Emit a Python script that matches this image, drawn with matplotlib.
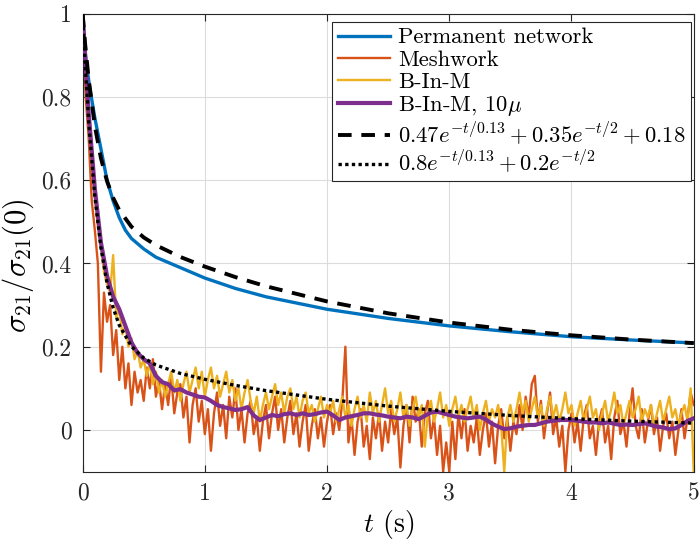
import numpy as np
import matplotlib
matplotlib.use("Agg")
import matplotlib.pyplot as plt

plt.rcParams['mathtext.fontset'] = 'cm'
plt.rcParams['font.family'] = ['cmr10', 'DejaVu Serif']
plt.rcParams['axes.formatter.use_mathtext'] = True

# ---- data ----
t_perm = [0, 0.02, 0.04, 0.06, 0.1, 0.14, 0.2, 0.25, 0.3, 0.35, 0.4, 0.5, 0.6, 0.8,
          1.0, 1.25, 1.5, 2.0, 2.5, 3.0, 3.5, 4.0, 4.5, 5.0]
perm = [1.0, 0.91, 0.86, 0.82, 0.75, 0.69, 0.60, 0.55, 0.51, 0.48, 0.46, 0.435, 0.415, 0.39,
        0.365, 0.34, 0.32, 0.29, 0.268, 0.25, 0.236, 0.224, 0.216, 0.209]

t_noisy = np.arange(201) * 0.025
mesh = [1.00, 0.80, 0.70, 0.55, 0.48, 0.40, 0.14, 0.33, 0.26, 0.30,
        0.18, 0.24, 0.12, 0.20, 0.10, 0.16, 0.06, 0.14, 0.09, 0.12,
        0.07, 0.15, 0.10, 0.17, 0.08, 0.12, 0.05, 0.11, 0.06, 0.13,
        0.04, 0.09, 0.11, 0.03, 0.08, -0.03, 0.06, 0.10, 0.02, 0.07,
        -0.01, 0.05, -0.05, 0.04, 0.09, 0.01, 0.06, -0.02, 0.08, 0.03,
        0.10, 0.00, 0.05, -0.03, 0.04, 0.07, -0.01, 0.03, -0.05, 0.02,
        0.06, -0.02, 0.04, 0.08, 0.00, 0.05, -0.03, 0.03, 0.07, -0.01,
        0.04, -0.04, 0.02, 0.06, -0.05, 0.01, 0.05, -0.02, 0.03, -0.04,
        0.02, 0.06, -0.01, 0.04, 0.00, 0.07, 0.20, -0.03, 0.03, -0.06,
        0.02, 0.05, -0.04, 0.01, -0.07, 0.03, -0.02, 0.04, -0.05, 0.02,
        -0.03, 0.05, -0.01, 0.03, -0.09, 0.01, 0.06, -0.03, 0.08, 0.02,
        0.05, -0.04, 0.04, 0.07, -0.02, 0.03, -0.06, 0.01, -0.10, -0.03,
        -0.10, 0.02, -0.07, 0.04, -0.02, 0.05, -0.05, 0.01, -0.03, 0.03,
        -0.06, 0.00, 0.04, -0.04, 0.02, -0.08, 0.01, 0.05, -0.02, 0.03,
        -0.05, 0.02, -0.01, 0.06, 0.00, 0.08, 0.03, 0.11, 0.13, 0.02,
        0.07, -0.02, 0.04, 0.09, -0.01, 0.03, -0.04, 0.01, -0.10, 0.00,
        0.04, -0.03, 0.02, -0.05, 0.03, 0.06, -0.02, 0.01, -0.06, 0.02,
        0.05, -0.03, 0.01, -0.07, 0.03, 0.07, -0.01, 0.02, -0.04, 0.04,
        0.10, 0.01, -0.02, 0.05, -0.03, 0.02, 0.06, -0.01, 0.03, -0.05,
        0.01, 0.04, -0.02, 0.02, -0.06, 0.00, 0.05, -0.02, 0.03, 0.09,
        0.06]
binm = [1.00, 0.86, 0.74, 0.64, 0.56, 0.49, 0.44, 0.38, 0.35, 0.33,
        0.42, 0.27, 0.29, 0.23, 0.25, 0.20, 0.22, 0.17, 0.19, 0.15,
        0.17, 0.13, 0.16, 0.11, 0.14, 0.09, 0.12, 0.08, 0.11, 0.14,
        0.09, 0.12, 0.07, 0.11, 0.14, 0.09, 0.12, 0.15, 0.10, 0.14,
        0.08, 0.12, 0.15, 0.10, 0.13, 0.08, 0.11, 0.14, 0.09, 0.12,
        0.07, 0.10, 0.05, 0.09, 0.12, 0.07, 0.04, 0.08, 0.02, 0.06,
        0.09, 0.05, 0.08, 0.11, 0.06, 0.09, 0.04, 0.08, 0.10, 0.05,
        0.08, 0.03, 0.07, 0.09, 0.04, 0.06, 0.02, 0.05, 0.08, 0.03,
        0.06, 0.04, 0.07, 0.02, 0.05, 0.08, 0.03, 0.06, 0.01, 0.05,
        0.08, 0.03, 0.06, 0.02, 0.09, 0.04, 0.07, 0.02, 0.06, 0.10,
        0.04, 0.07, 0.02, 0.05, 0.09, 0.03, 0.06, 0.01, 0.05, 0.08,
        0.03, 0.06, -0.04, 0.04, 0.07, 0.02, 0.05, 0.09, 0.03, 0.06,
        0.01, 0.05, 0.08, 0.03, 0.06, 0.02, 0.05, 0.08, 0.03, 0.06,
        0.00, 0.04, 0.07, 0.02, 0.05, 0.03, 0.06, 0.01, -0.10, 0.03,
        0.06, 0.02, 0.05, 0.09, 0.04, 0.07, 0.02, 0.05, 0.08, 0.03,
        0.06, 0.01, 0.05, 0.08, 0.03, 0.06, 0.02, 0.05, 0.09, 0.04,
        0.06, 0.01, 0.04, 0.07, 0.02, 0.05, 0.08, 0.03, 0.05, 0.00,
        0.04, 0.07, 0.02, 0.05, 0.09, 0.04, 0.06, 0.01, 0.04, 0.07,
        0.03, 0.05, 0.08, 0.02, 0.05, 0.03, 0.06, 0.01, 0.04, 0.07,
        0.02, 0.05, 0.08, 0.03, 0.05, 0.01, 0.04, 0.06, 0.02, 0.10,
        -0.10]

t_purple = np.arange(101) * 0.05
binm10 = [1.0, 0.76, 0.58, 0.45, 0.37, 0.32, 0.29, 0.25, 0.21, 0.185,
          0.17, 0.16, 0.13, 0.115, 0.11, 0.095, 0.098, 0.09, 0.085, 0.08,
          0.078, 0.07, 0.06, 0.055, 0.052, 0.048, 0.05, 0.055, 0.035, 0.024,
          0.03, 0.036, 0.033, 0.038, 0.04, 0.036, 0.04, 0.036, 0.038, 0.042,
          0.044, 0.035, 0.024, 0.03, 0.033, 0.036, 0.04, 0.04, 0.037, 0.035,
          0.032, 0.03, 0.028, 0.032, 0.03, 0.026, 0.034, 0.042, 0.044, 0.04,
          0.036, 0.032, 0.03, 0.028, 0.03, 0.032, 0.025, 0.015, 0.008, 0.002,
          0.004, 0.008, 0.01, 0.012, 0.012, 0.016, 0.02, 0.022, 0.024, 0.024,
          0.024, 0.022, 0.02, 0.018, 0.018, 0.016, 0.018, 0.015, 0.012, 0.013,
          0.012, 0.014, 0.016, 0.012, 0.008, 0.006, 0.002, 0.004, 0.012, 0.022,
          0.028]

t_fit = [0, 0.02, 0.05, 0.1, 0.15, 0.2, 0.25, 0.3, 0.4, 0.5, 0.6, 0.8, 1.0, 1.25, 1.5,
         2.0, 2.5, 3.0, 3.5, 4.0, 4.5, 5.0]
fit_dashed = [1.0, 0.9295, 0.8414, 0.7307, 0.6529, 0.5976, 0.5576, 0.528, 0.4882, 0.4626,
              0.4439, 0.4156, 0.3925, 0.3673, 0.3453, 0.3088, 0.2803, 0.2581, 0.2408,
              0.2274, 0.2169, 0.2087]
fit_dotted = [1.0, 0.8839, 0.7397, 0.5609, 0.4378, 0.3528, 0.2935, 0.2517, 0.2006, 0.1729,
              0.1561, 0.1358, 0.1217, 0.1071, 0.0945, 0.0736, 0.0573, 0.0446, 0.0348,
              0.0271, 0.0211, 0.0164]

labels = ['Permanent network', 'Meshwork', 'B-In-M', r'B-In-M, 10$\mu$',
          r'$0.47e^{-t/0.13}+0.35e^{-t/2}+0.18$', r'$0.8e^{-t/0.13}+0.2e^{-t/2}$']

# ---- plot ----
fig = plt.figure(figsize=(7.0, 5.49), dpi=100)
ax = fig.add_axes([0.118, 0.141, 0.873, 0.834])

ax.plot(t_perm, perm, color='#0072BD', lw=2.4, label=labels[0], zorder=3)
ax.plot(t_noisy, mesh, color='#D95319', lw=1.7, label=labels[1], zorder=2)
ax.plot(t_noisy, binm, color='#EDB120', lw=1.7, label=labels[2], zorder=2.1)
ax.plot(t_purple, binm10, color='#7E2F8E', lw=3.0, label=labels[3], zorder=3)
ax.plot(t_fit, fit_dashed, color='black', lw=2.8, ls=(0, (3.5, 2.5)), label=labels[4], zorder=4)
ax.plot(t_fit, fit_dotted, color='black', lw=2.4, ls=(0, (1, 1)), label=labels[5], zorder=4)

ax.set_xlim(0, 5)
ax.set_ylim(-0.1, 1)
ax.set_xticks([0, 1, 2, 3, 4, 5])
ax.set_xticklabels(['0', '1', '2', '3', '4', '5'])
ax.set_yticks([0, 0.2, 0.4, 0.6, 0.8, 1])
ax.set_yticklabels(['0', '0.2', '0.4', '0.6', '0.8', '1'])
ax.tick_params(direction='in', labelsize=17, length=5, width=0.8, colors='#262626',
               top=True, right=True, pad=8)
ax.grid(True, color='#dcdcdc', lw=0.8)
for s in ax.spines.values():
    s.set_color('#262626')
    s.set_linewidth(0.8)

ax.set_xlabel(r'$t$ (s)', fontsize=20, labelpad=2)
ax.set_ylabel(r'$\sigma_{21}/\sigma_{21}(0)$', fontsize=22, labelpad=4)
ax.yaxis.set_label_coords(-0.077, 0.45)

leg = ax.legend(loc='upper right', bbox_to_anchor=(0.996, 0.982), fontsize=16.3,
                handlelength=2.3, handletextpad=0.35, labelspacing=0.1,
                borderpad=0.25, fancybox=False, framealpha=1, edgecolor='#262626',
                borderaxespad=0.0)
leg.get_frame().set_linewidth(0.8)

fig.savefig('out.png', dpi=100)
